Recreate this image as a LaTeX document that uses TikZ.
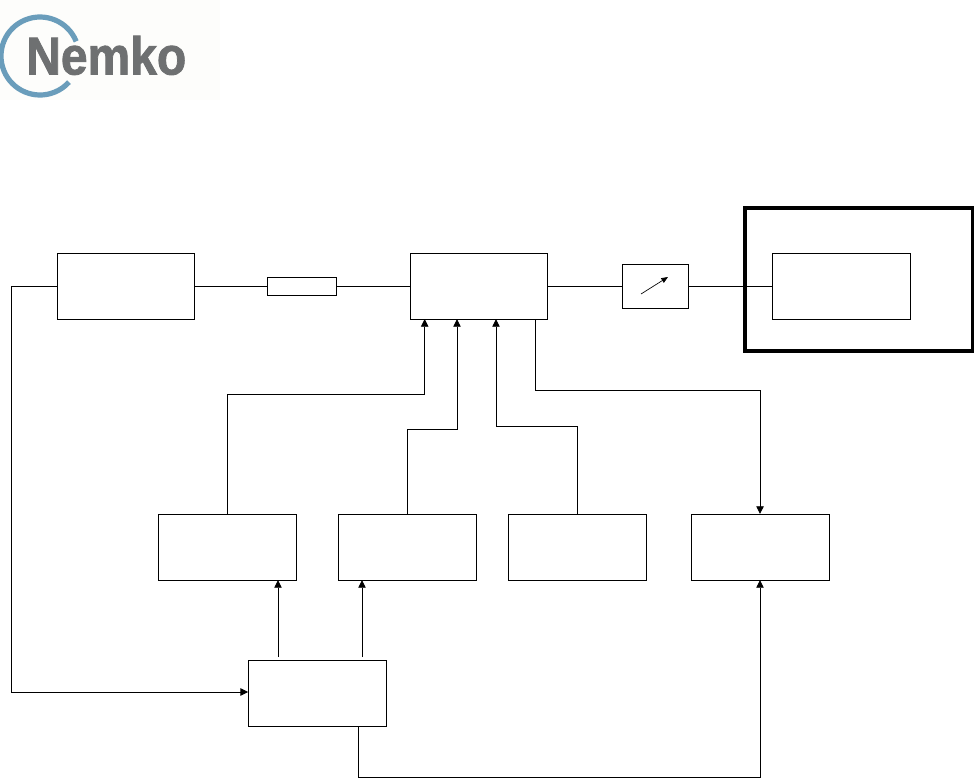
\documentclass[tikz,border=0pt]{standalone}
\usepackage{fontspec}
\setmainfont{Liberation Sans}
\newfontfamily\logofont[FakeBold=1.6]{Liberation Sans Bold}
\usetikzlibrary{arrows.meta}
\definecolor{logoblue}{HTML}{6A9DBB}
\definecolor{logogrey}{HTML}{6E7071}
\definecolor{logobg}{HTML}{FDFDFB}
\tikzset{
  x=0.75pt,y=-0.75pt,
  line/.style={line width=0.7pt,black},
  conn/.style={line,-{Triangle[length=5.8pt,width=5.6pt]}},
  blockbox/.style={draw,line width=0.7pt,minimum width=103.5pt,minimum height=49.5pt,inner sep=0pt,outer sep=0pt},
}
\begin{document}
\begin{tikzpicture}
\useasboundingbox (0,0) rectangle (975,778);
\fill[white] (0,0) rectangle (975,778);
% logo
\fill[logobg] (0,0) rectangle (220,100);
\coordinate (logoc) at (40,56);
\draw[logoblue,line width=3.9pt] (logoc) ++(-22:39) arc[start angle=-22,end angle=-318,radius=39];
\node[anchor=base west,inner sep=0pt,text=logogrey,xscale=0.9] (logotext) at (26,74.5) {\fontsize{40pt}{40pt}\selectfont\logofont Nemko};
% frame
\node[draw,line width=2.4pt,minimum width=170.6pt,minimum height=107.25pt,inner sep=0pt,outer sep=0pt] (frame) at (858.8,279.5) {};
% boxes
\node[blockbox,minimum width=102.6pt] (a) at (125.7,286) {};
\node[draw,line width=0.7pt,minimum width=51.75pt,minimum height=13.5pt,inner sep=0pt,outer sep=0pt] (fuse) at (301.5,286) {};
\node[blockbox,minimum width=102.6pt] (b) at (478.7,286) {};
\node[draw,line width=0.7pt,minimum width=49.5pt,minimum height=33pt,inner sep=0pt,outer sep=0pt] (att) at (655,286) {};
\node[blockbox,minimum width=103pt] (d) at (841.5,286) {};
\node[blockbox] (e) at (227.2,547) {};
\node[blockbox] (f) at (407,547) {};
\node[blockbox] (g) at (577.2,547) {};
\node[blockbox] (h) at (760,547) {};
\node[blockbox] (i) at (317.2,693) {};
% free ends
\coordinate (arrS) at (641,294);
\coordinate (arrE) at (668,277);
\coordinate (c1) at (424.7,394);
\coordinate (c2) at (457,429);
\coordinate (c3) at (496,426);
\coordinate (c4) at (535.7,390);
\coordinate (c5) at (11,692);
\coordinate (c6) at (358,777);
\coordinate (t1) at (278,657);
\coordinate (t2) at (362,657);
% connectors
\draw[line] (a.east) -- (fuse.west);
\draw[line] (fuse.east) -- (b.west);
\draw[line] (b.east) -- (att.west);
\draw[line] (att.east) -- (d.west);
\draw[line,line width=0.5pt,-{Triangle[length=5pt,width=4pt]}] (arrS) -- (arrE);
\draw[conn] (e.north) |- (c1) -- (c1 |- b.south);
\draw[conn] (f.north) |- (c2) -- (c2 |- b.south);
\draw[conn] (g.north) |- (c3) -- (c3 |- b.south);
\draw[conn] (c4 |- b.south) -- (c4) -| (h.north);
\draw[conn] (a.west) -| (c5) -- (c5 -| i.west);
\draw[conn] (t1) -- (t1 |- e.south);
\draw[conn] (t2) -- (t2 |- f.south);
\draw[conn] (c6 |- i.south) -- (c6) -| (h.south);
\end{tikzpicture}
\end{document}
